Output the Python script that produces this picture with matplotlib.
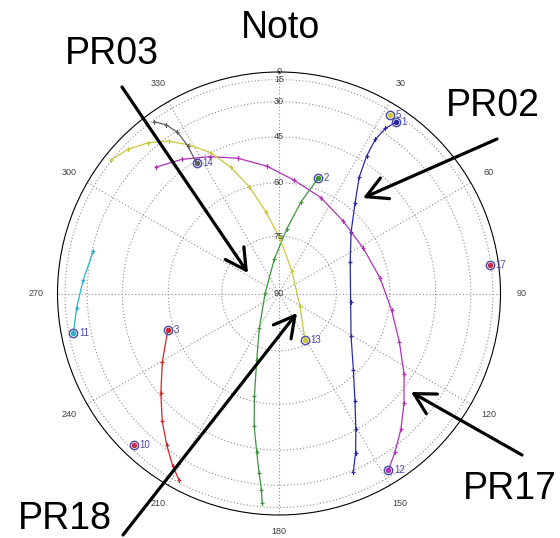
import numpy as np
import matplotlib
matplotlib.use('Agg')
import matplotlib.pyplot as plt

#%% Satellite tracks (azimuth, elevation in degrees), first entry = circled end
prn = [1, 2, 3, 5, 10, 11, 12, 13, 14, 17]

az_01 = [34.3, 32.8, 32.0, 32.5, 34.6, 40.1, 49.6, 66.0, 96.5, 120.6, 135.8, 144.8, 150.5, 154.3, 157.4]
el_01 = [20.7, 27.5, 34.8, 42.5, 50.4, 57.8, 64.7, 69.4, 71.0, 67.8, 61.2, 53.5, 45.2, 37.1, 29.2]

az_02 = [18.8, 13.5, 6.8, 352.2, 270.8, 209.5, 198.5, 193.5, 190.6, 188.0, 186.3, 185.1, 184.6]
el_02 = [56.7, 64.8, 73.0, 81.0, 86.4, 79.6, 71.5, 61.6, 52.5, 43.7, 35.2, 27.0, 18.6]

az_03 = [251.8, 239.5, 229.8, 222.5, 216.5, 211.7, 208.2]
el_03 = [58.1, 52.3, 45.7, 38.7, 31.6, 24.0, 17.2]

az_05 = [31.9]
el_05 = [18.4]

az_10 = [223.7]
el_10 = [18.8]

az_11 = [259.0, 266.0, 273.9, 282.9]
el_11 = [18.9, 23.7, 27.6, 30.7]

az_12 = [148.2, 143.9, 138.1, 131.3, 122.8, 111.8, 98.3, 81.4, 61.8, 41.6, 23.5, 7.5,
         354.5, 343.0, 333.2, 324.1, 315.7]
el_12 = [20.4, 27.4, 34.5, 41.3, 47.8, 54.2, 59.1, 62.5, 64.4, 64.1, 61.8, 58.9,
         54.7, 50.3, 46.2, 41.6, 37.2]

az_13 = [150.8, 120.8, 29.1, 1.0, 350.8, 344.5, 339.1, 334.1, 328.9, 324.1, 319.0, 313.7, 308.4]
el_13 = [76.1, 83.7, 83.2, 75.6, 68.0, 60.0, 52.4, 45.0, 38.5, 31.9, 25.6, 19.6, 14.1]

az_14 = [327.7, 328.3, 327.8, 326.2, 324.0]
el_14 = [46.0, 38.4, 30.6, 23.6, 16.4]

az_17 = [82.3]
el_17 = [16.0]

tracks = {1: (az_01, el_01), 2: (az_02, el_02), 3: (az_03, el_03), 5: (az_05, el_05),
          10: (az_10, el_10), 11: (az_11, el_11), 12: (az_12, el_12), 13: (az_13, el_13),
          14: (az_14, el_14), 17: (az_17, el_17)}

colors = {1: '#2a2aa8', 2: '#3c963c', 3: '#d02828', 5: '#c8c83c', 10: '#c8304c',
          11: '#28b4c8', 12: '#b030b8', 13: '#c8c83c', 14: '#606060', 17: '#c8304c'}

elev_rings = [15, 30, 45, 60, 75]
az_ticks = [30, 60, 90, 120, 150, 180, 210, 240, 270, 300, 330]

# Receiver labels with arrows (text pos, arrow start, arrow tip) in figure pixels
callouts = [('PR03', (112, 54), (122, 87), (248, 273)),
            ('PR02', (493, 106), (497, 139), (363, 198)),
            ('PR17', (510, 489), (522, 455), (411, 392)),
            ('PR18', (65, 519), (123, 535), (297, 313))]

#%% plot setup
W, H = 560, 538
fig = plt.figure(figsize=(W / 100, H / 100), dpi=100)
cx, cy, R = 279, 293.5, 221.5
ax = fig.add_axes([(cx - R) / W, (H - cy - R) / H, 2 * R / W, 2 * R / H], projection='polar')
ax.set_theta_zero_location('N')
ax.set_theta_direction(-1)
ax.set_ylim(0, 1)

# elevation mapped to cos(el): zenith in the centre, horizon at the rim
ax.set_rgrids(np.cos(np.radians(elev_rings)), labels=[''] * len(elev_rings))
ax.set_thetagrids(range(0, 360, 30), labels=[''] * 12)
ax.grid(color='#8c8c8c', linestyle=(0, (1, 2)), linewidth=0.8)
ax.spines['polar'].set_color('black')
ax.spines['polar'].set_linewidth(0.8)

small = dict(fontsize=6.5, color='#404040', family='Liberation Sans')
for el in [0] + elev_rings + [90]:
    ax.text(0, np.cos(np.radians(el)), str(el), ha='center', va='center', **small)
for a in az_ticks:
    rr = 1.075 if a == 180 else 1.095
    ax.text(np.radians(a), rr, str(a), ha='center', va='center', clip_on=False, **small)

#%% satellites
for p in prn:
    az, el = tracks[p]
    th = np.radians(az)
    r = np.cos(np.radians(el))
    c = colors[p]
    if len(az) > 1:
        ax.plot(th, r, color=c, lw=0.9, marker='+', ms=3, mew=0.9)
    ax.plot(th[0], r[0], marker='o', ms=6, mfc='none', mec='#4a4aa8', mew=1)
    ax.plot(th[0], r[0], marker='o', ms=3, color=c)
    ax.annotate(str(p), xy=(th[0], r[0]), xytext=(4, 0), textcoords='offset points',
                va='center', ha='left', fontsize=7, color='#4a4aa8',
                family='Liberation Sans')

#%% title and receiver call-outs
big = dict(fontsize=27, family='Liberation Sans', color='black', ha='center', va='center')
fig.text(280 / W, 1 - 28 / H, 'Noto', **big)
for name, (tx, ty), (x0, y0), (x1, y1) in callouts:
    fig.text(tx / W, 1 - ty / H, name, **big)
    ax.annotate('', xy=(x1 / W, 1 - y1 / H), xycoords='figure fraction',
                xytext=(x0 / W, 1 - y0 / H), textcoords='figure fraction',
                arrowprops=dict(arrowstyle='->,head_length=0.55,head_width=0.3',
                                lw=2.3, color='black', shrinkA=0, shrinkB=0),
                fontsize=27, annotation_clip=False)

fig.savefig('out.png', dpi=100, facecolor='white')
